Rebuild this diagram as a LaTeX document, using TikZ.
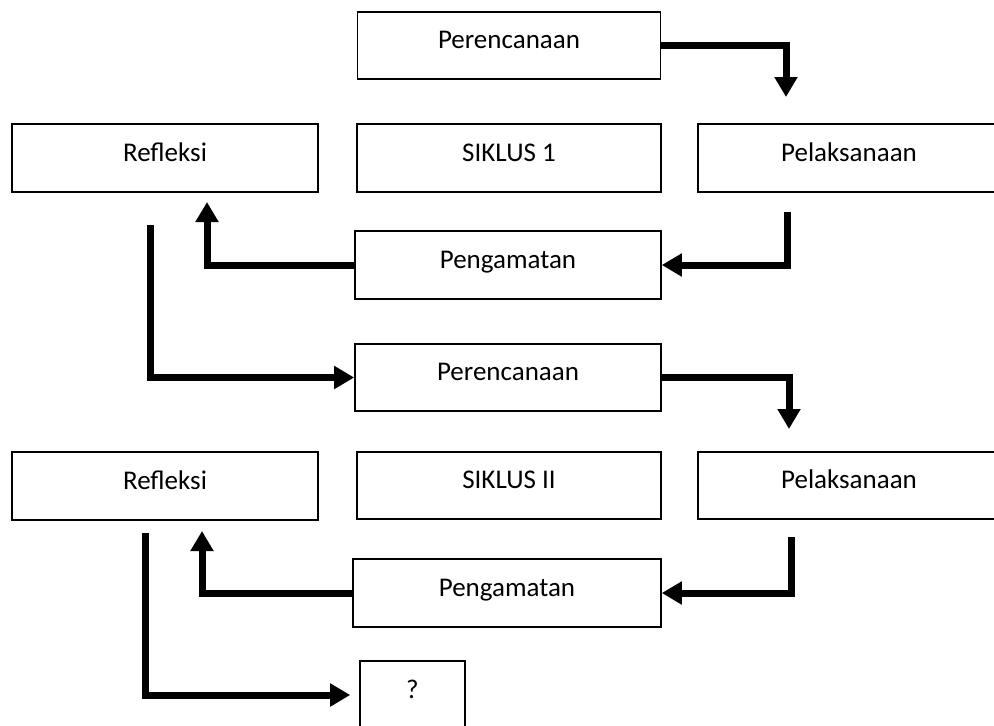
\documentclass[tikz,border=0pt]{standalone}
\usepackage{fontspec}
\setmainfont{Carlito}
\usetikzlibrary{arrows.meta}

\begin{document}
\begin{tikzpicture}[x=1pt,y=-1pt,
  box/.style={draw,line width=1.6pt,minimum height=67pt,inner sep=0pt,text height=20pt,text depth=13.5pt,font=\fontsize{27}{31}\selectfont},
  flow/.style={line width=7pt,-{Triangle[width=22pt,length=20pt]}}]
\useasboundingbox (0,0) rectangle (994,726);
\node[box,minimum width=303pt] (per1) at (509,45.5) {Perencanaan};
\node[box,minimum width=306pt,minimum height=68pt] (refl1) at (165,158) {Refleksi};
\node[box,minimum width=304pt,minimum height=68pt] (sik1) at (509,158) {SIKLUS 1};
\node[box,minimum width=302pt,minimum height=68pt] (pel1) at (849,158) {Pelaksanaan};
\node[box,minimum width=306pt,minimum height=68pt] (peng1) at (508,265) {Pengamatan};
\node[box,minimum width=306pt] (per2) at (508,377.5) {Perencanaan};
\node[box,minimum width=306pt,minimum height=68pt] (refl2) at (165,486) {Refleksi};
\node[box,minimum width=304pt] (sik2) at (509,485.5) {SIKLUS II};
\node[box,minimum width=302pt] (pel2) at (849,485.5) {Pelaksanaan};
\node[box,minimum width=308pt,minimum height=68pt] (peng2) at (507,593) {Pengamatan};
\node[box,minimum width=105pt,minimum height=68pt] (q) at (412.5,695) {?};

\coordinate (t1) at (786,97);
\coordinate (s2) at (787,212);
\coordinate (t3) at (207,202);
\coordinate (s4) at (150,225);
\coordinate (t5) at (789,429);
\coordinate (s6) at (791,537);
\coordinate (t7) at (202,531);
\coordinate (s8) at (145,533);

\draw[flow] (per1.east) -| (t1);
\draw[flow] (s2) |- (peng1.east);
\draw[flow] (peng1.west) -| (t3);
\draw[flow] (s4) |- (per2.west);
\draw[flow] (per2.east) -| (t5);
\draw[flow] (s6) |- (peng2.east);
\draw[flow] (peng2.west) -| (t7);
\draw[flow,shorten >=9pt] (s8) |- (q.west);
\end{tikzpicture}
\end{document}
